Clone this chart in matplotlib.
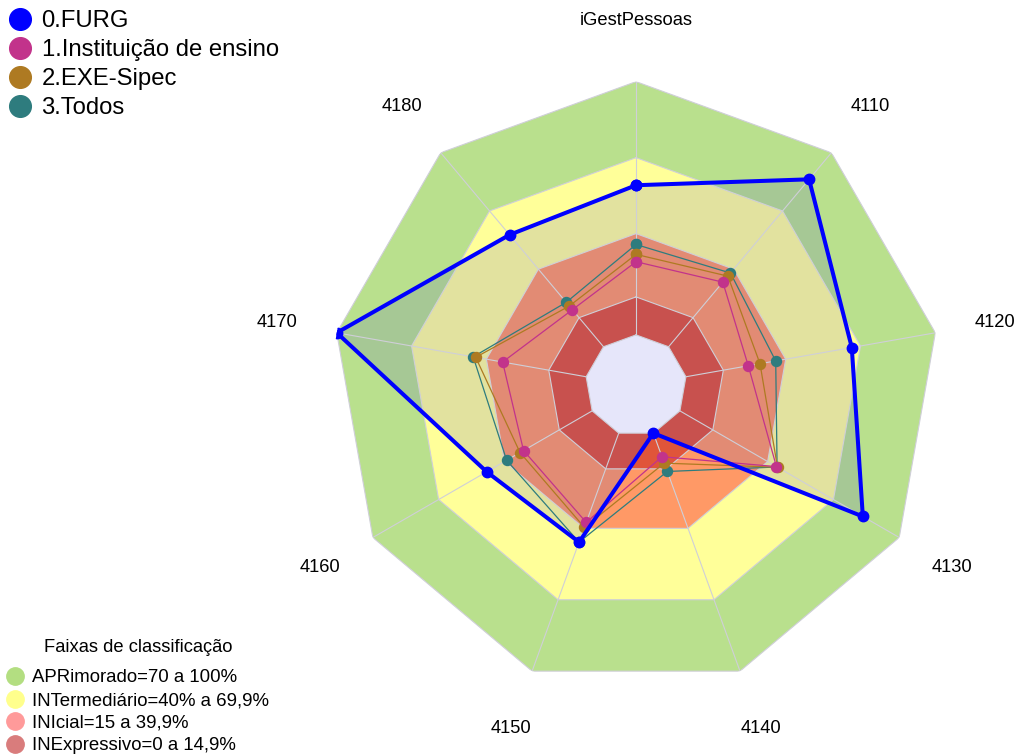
import numpy as np
import matplotlib
matplotlib.use('Agg')
import matplotlib.pyplot as plt
from matplotlib.lines import Line2D

plt.rcParams['font.family'] = ['Liberation Sans', 'DejaVu Sans']

axes_names = ['iGestPessoas', '4110', '4120', '4130', '4140', '4150', '4160', '4170', '4180']

furg = [59.1, 86.3, 66.5, 83.4, 0.0, 45.8, 48.1, 100.0, 57.7]
inst = [28.9, 33.3, 25.0, 44.0, 9.9, 37.5, 31.3, 33.5, 19.1]
sipec = [31.8, 36.4, 29.7, 44.5, 12.6, 39.6, 32.9, 44.3, 21.0]
todos = [35.7, 38.0, 36.0, 44.3, 16.1, 45.8, 39.0, 45.3, 22.9]

series_names = ['0.FURG', '1.Instituição de ensino', '2.EXE-Sipec', '3.Todos']
series_colors = ['#0000FF', '#C2338B', '#AE7A22', '#2E7C7E']

band_limits = [100, 70, 40, 15]
band_colors = ['#B9E08D', '#FFFF99', '#FF9966', '#E0553A']
band_labels = ['APRimorado=70 a 100%', 'INTermediário=40% a 69,9%',
               'INIcial=15 a 39,9%', 'INExpressivo=0 a 14,9%']
band_legend_colors = ['#B3DE81', '#FFFF8C', '#FF9A9A', '#D97C7C']

n = len(axes_names)
theta = np.arange(n) * 2 * np.pi / n
theta_c = np.append(theta, theta[0])


def closed(v):
    return np.append(v, v[0])


fig = plt.figure(figsize=(10.18, 7.56), dpi=100)
ax = fig.add_axes([0.3262, 0.088, 0.5972, 0.804], projection='polar')
ax.set_theta_zero_location('N')
ax.set_theta_direction(-1)
ax.set_ylim(-20, 100)
ax.set_xticks([])
ax.set_yticks([])
ax.grid(False)
ax.spines['polar'].set_visible(False)
ax.patch.set_visible(False)

# faixas de classificacao
for lim, col in zip(band_limits, band_colors):
    ax.fill(theta_c, np.full(n + 1, lim), color=col, lw=0, zorder=1)

# preenchimento FURG
ax.fill(theta_c, closed(furg), color=(0.25, 0.25, 0.78), alpha=0.15, lw=0, zorder=2)

# centro
ax.fill(theta_c, np.zeros(n + 1), color='#E6E6FA', lw=0, zorder=3)

# grade
for lim in [0, 15, 40, 70, 100]:
    ax.plot(theta_c, np.full(n + 1, lim), color='#CFCFD8', lw=0.8, zorder=4)
for t in theta:
    ax.plot([t, t], [0, 100], color='#CFCFD8', lw=0.8, zorder=4)

# series
for vals, col in zip([todos, sipec, inst], series_colors[:0:-1]):
    ax.plot(theta_c, closed(vals), color=col, lw=0.9, marker='o', ms=7.2,
            mec=col, mfc=col, zorder=5)
ax.plot(theta_c, closed(furg), color=series_colors[0], lw=2.9, marker='o', ms=7.5,
        zorder=6)

for t, name in zip(theta, axes_names):
    ax.text(t, 124, name, ha='center', va='center', fontsize=13.2, clip_on=False)

# legenda series
W, H = 1018, 756
for i, (name, col) in enumerate(zip(series_names, series_colors)):
    yc = 19.3 + i * 29
    fig.add_artist(Line2D([19.5 / W], [1 - yc / H], transform=fig.transFigure,
                          marker='o', ms=15.6, color=col, ls=''))
    fig.text(41.5 / W, 1 - (yc + 7.6) / H, name, fontsize=17.2, va='baseline', ha='left')

# legenda faixas
fig.text(138 / W, 1 - 651.5 / H, 'Faixas de classificação', fontsize=13.2,
         ha='center', va='baseline')
for i, (lab, col) in enumerate(zip(band_labels, band_legend_colors)):
    yc = 676 + i * 22.5
    fig.add_artist(Line2D([15 / W], [1 - yc / H], transform=fig.transFigure,
                          marker='o', ms=12.5, color=col, ls=''))
    fig.text(32 / W, 1 - (yc + 6.5) / H, lab, fontsize=13.4, va='baseline', ha='left')

fig.savefig('out.png', dpi=100)
